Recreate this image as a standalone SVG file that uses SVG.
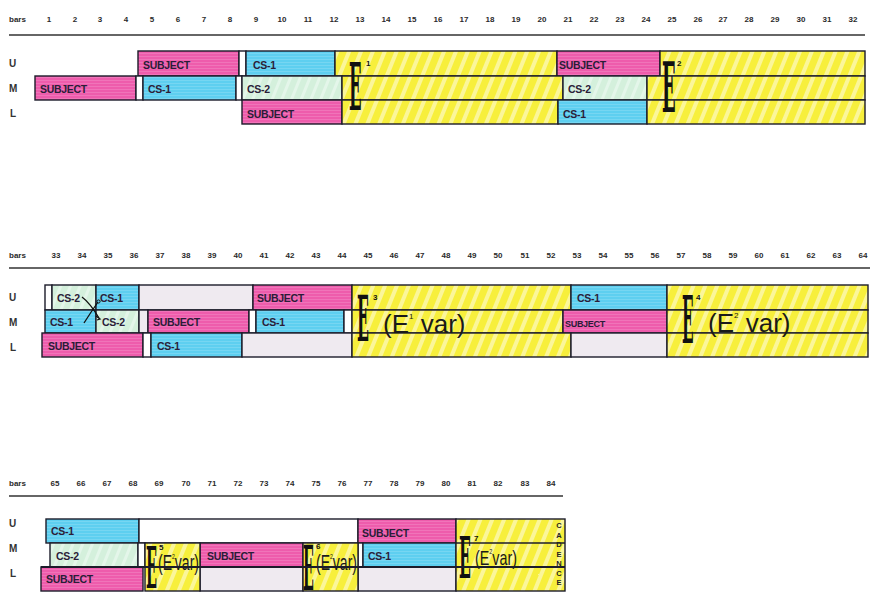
<svg xmlns="http://www.w3.org/2000/svg" width="874" height="595" viewBox="0 0 874 595">
<defs>
<pattern id="ystripe" width="11" height="11" patternUnits="userSpaceOnUse" patternTransform="rotate(22)">
<rect width="11" height="11" fill="#f7ef3c"/>
<rect x="0" width="4" height="11" fill="#fbf69a"/>
</pattern>
<pattern id="pstripe" width="6" height="3" patternUnits="userSpaceOnUse">
<rect width="6" height="3" fill="#ee5cac"/>
<rect y="2" width="6" height="0.7" fill="#f27fbf"/>
</pattern>
<pattern id="cstripe" width="6" height="3" patternUnits="userSpaceOnUse">
<rect width="6" height="3" fill="#5ecff0"/>
<rect y="2" width="6" height="0.7" fill="#80daf3"/>
</pattern>
<pattern id="gstripe" width="9" height="9" patternUnits="userSpaceOnUse" patternTransform="rotate(22)">
<rect width="9" height="9" fill="#d4f0dc"/>
<rect width="3" height="9" fill="#e4f6ea"/>
</pattern>
</defs>
<style>
.hdr{font-family:"Liberation Sans",Arial,sans-serif;font-size:8px;font-weight:bold;fill:#2a2a2a;text-anchor:middle}
.bars{font-family:"Liberation Sans",Arial,sans-serif;font-size:8px;font-weight:bold;fill:#2a2a2a}
.rl{font-family:"Liberation Sans",Arial,sans-serif;font-size:10px;font-weight:bold;fill:#333}
.rule{stroke:#333;stroke-width:1.6}
.b{stroke:#1c1c2a;stroke-width:1.4}
.p{fill:url(#pstripe)}
.c{fill:url(#cstripe)}
.g{fill:url(#gstripe)}
.y{fill:url(#ystripe)}
.w{fill:#ffffff}
.lg{fill:#efeaf0}
.t{font-family:"Liberation Sans",Arial,sans-serif;font-size:10.5px;font-weight:bold;fill:#2b1d38;letter-spacing:-0.3px}
.E{font-family:"DejaVu Serif","Liberation Serif",serif;font-weight:bold;fill:#111}
.sup{font-family:"Liberation Sans",Arial,sans-serif;font-size:8px;font-weight:bold;fill:#111}
.ev{font-family:"Liberation Sans",Arial,sans-serif;fill:#1a1a1a}
.cad{font-family:"Liberation Sans",Arial,sans-serif;font-size:7.5px;font-weight:bold;fill:#222;text-anchor:middle}
.hl{stroke:#1c1c2a;stroke-width:1.8}
.conn{fill:none;stroke:#111;stroke-width:1.3}
</style>
<rect width="874" height="595" fill="#ffffff"/>

<!-- ===== Section 1 ===== -->
<g id="header1">
<text class="bars" x="9" y="22">bars</text>
<text class="hdr" y="22"><tspan x="49">1</tspan><tspan x="75">2</tspan><tspan x="100">3</tspan><tspan x="126">4</tspan><tspan x="152">5</tspan><tspan x="178">6</tspan><tspan x="204">7</tspan><tspan x="230">8</tspan><tspan x="256">9</tspan><tspan x="282">10</tspan><tspan x="308">11</tspan><tspan x="334">12</tspan><tspan x="360">13</tspan><tspan x="386">14</tspan><tspan x="412">15</tspan><tspan x="438">16</tspan><tspan x="464">17</tspan><tspan x="490">18</tspan><tspan x="516">19</tspan><tspan x="542">20</tspan><tspan x="568">21</tspan><tspan x="594">22</tspan><tspan x="620">23</tspan><tspan x="646">24</tspan><tspan x="672">25</tspan><tspan x="698">26</tspan><tspan x="723">27</tspan><tspan x="749">28</tspan><tspan x="775">29</tspan><tspan x="801">30</tspan><tspan x="827">31</tspan><tspan x="853">32</tspan></text>
<line class="rule" x1="9" y1="35" x2="865" y2="35"/>
<text class="rl" x="9" y="67">U</text>
<text class="rl" x="9" y="92">M</text>
<text class="rl" x="10" y="117">L</text>
</g>
<g id="s1-U-subject"><rect class="b p" x="138" y="51" width="101" height="25"/><text class="t" x="143" y="69">SUBJECT</text></g>
<g id="s1-U-gap"><rect class="b w" x="239" y="51" width="7" height="25"/></g>
<g id="s1-U-cs1"><rect class="b c" x="246" y="51" width="89" height="25"/><text class="t" x="253" y="69">CS-1</text></g>
<g id="s1-U-ep1"><rect class="b y" x="335" y="51" width="222" height="25"/></g>
<g id="s1-U-subject2"><rect class="b p" x="557" y="51" width="103" height="25"/><text class="t" x="559" y="69">SUBJECT</text></g>
<g id="s1-U-ep2"><rect class="b y" x="660" y="51" width="205" height="25"/></g>
<g id="s1-M-subject"><rect class="b p" x="35" y="76" width="101" height="24"/><text class="t" x="40" y="93">SUBJECT</text></g>
<g id="s1-M-gap1"><rect class="b w" x="136" y="76" width="7" height="24"/></g>
<g id="s1-M-cs1"><rect class="b c" x="143" y="76" width="93" height="24"/><text class="t" x="148" y="93">CS-1</text></g>
<g id="s1-M-gap2"><rect class="b w" x="236" y="76" width="6" height="24"/></g>
<g id="s1-M-cs2"><rect class="b g" x="242" y="76" width="100" height="24"/><text class="t" x="247" y="93">CS-2</text></g>
<g id="s1-M-ep1"><rect class="b y" x="342" y="76" width="221" height="24"/></g>
<g id="s1-M-cs2b"><rect class="b g" x="563" y="76" width="84" height="24"/><text class="t" x="568" y="93">CS-2</text></g>
<g id="s1-M-ep2"><rect class="b y" x="647" y="76" width="218" height="24"/></g>
<g id="s1-L-subject"><rect class="b p" x="242" y="100" width="100" height="24"/><text class="t" x="247" y="118">SUBJECT</text></g>
<g id="s1-L-ep1"><rect class="b y" x="342" y="100" width="216" height="24"/></g>
<g id="s1-L-cs1"><rect class="b c" x="558" y="100" width="89" height="24"/><text class="t" x="563" y="118">CS-1</text></g>
<g id="s1-L-ep2"><rect class="b y" x="647" y="100" width="218" height="24"/></g>
<g id="E1"><text class="E" font-size="66" transform="translate(349,110) scale(0.25,1)">E</text><text class="sup" x="366" y="66">1</text></g>
<g id="E2"><text class="E" font-size="69" transform="translate(662,112) scale(0.26,1)">E</text><text class="sup" x="677" y="66">2</text></g>

<!-- ===== Section 2 ===== -->
<g id="header2">
<text class="bars" x="9" y="258">bars</text>
<text class="hdr" y="258"><tspan x="56">33</tspan><tspan x="82">34</tspan><tspan x="108">35</tspan><tspan x="134">36</tspan><tspan x="160">37</tspan><tspan x="186">38</tspan><tspan x="212">39</tspan><tspan x="238">40</tspan><tspan x="264">41</tspan><tspan x="290">42</tspan><tspan x="316">43</tspan><tspan x="342">44</tspan><tspan x="368">45</tspan><tspan x="394">46</tspan><tspan x="420">47</tspan><tspan x="446">48</tspan><tspan x="472">49</tspan><tspan x="498">50</tspan><tspan x="525">51</tspan><tspan x="551">52</tspan><tspan x="577">53</tspan><tspan x="603">54</tspan><tspan x="629">55</tspan><tspan x="655">56</tspan><tspan x="681">57</tspan><tspan x="707">58</tspan><tspan x="733">59</tspan><tspan x="759">60</tspan><tspan x="785">61</tspan><tspan x="811">62</tspan><tspan x="837">63</tspan><tspan x="863">64</tspan></text>
<line class="rule" x1="9" y1="268" x2="870" y2="268"/>
<text class="rl" x="9" y="301">U</text>
<text class="rl" x="9" y="326">M</text>
<text class="rl" x="10" y="351">L</text>
</g>
<g id="s2-U-gap"><rect class="b w" x="45" y="285" width="7" height="25"/></g>
<g id="s2-U-cs2"><rect class="b g" x="52" y="285" width="44" height="25"/><text class="t" x="57" y="302">CS-2</text></g>
<g id="s2-U-cs1"><rect class="b c" x="96" y="285" width="43" height="25"/><text class="t" x="100" y="302">CS-1</text></g>
<g id="s2-U-rest"><rect class="b lg" x="139" y="285" width="114" height="25"/></g>
<g id="s2-U-subject"><rect class="b p" x="253" y="285" width="99" height="25"/><text class="t" x="257" y="302">SUBJECT</text></g>
<g id="s2-U-ep3"><rect class="b y" x="352" y="285" width="219" height="25"/></g>
<g id="s2-U-cs1b"><rect class="b c" x="571" y="285" width="96" height="25"/><text class="t" x="577" y="302">CS-1</text></g>
<g id="s2-U-ep4"><rect class="b y" x="667" y="285" width="201" height="25"/></g>
<g id="s2-M-cs1"><rect class="b c" x="45" y="310" width="51" height="23"/><text class="t" x="50" y="326">CS-1</text></g>
<g id="s2-M-cs2"><rect class="b g" x="96" y="310" width="43" height="23"/><text class="t" x="102" y="326">CS-2</text></g>
<g id="s2-M-gap1"><rect class="b lg" x="139" y="310" width="9" height="23"/></g>
<g id="s2-M-subject"><rect class="b p" x="148" y="310" width="101" height="23"/><text class="t" x="153" y="326">SUBJECT</text></g>
<g id="s2-M-gap2"><rect class="b w" x="249" y="310" width="7" height="23"/></g>
<g id="s2-M-cs1b"><rect class="b c" x="256" y="310" width="88" height="23"/><text class="t" x="262" y="326">CS-1</text></g>
<g id="s2-M-gap3"><rect class="b w" x="344" y="310" width="8" height="23"/></g>
<g id="s2-M-ep3"><rect class="b y" x="352" y="310" width="211" height="23"/></g>
<g id="s2-M-subjectb"><rect class="b p" x="563" y="310" width="104" height="23"/><text class="t" x="565" y="327" style="font-size:9px">SUBJECT</text></g>
<g id="s2-M-ep4"><rect class="b y" x="667" y="310" width="201" height="23"/></g>
<g id="s2-L-subject"><rect class="b p" x="42" y="333" width="101" height="24"/><text class="t" x="48" y="350">SUBJECT</text></g>
<g id="s2-L-gap"><rect class="b w" x="143" y="333" width="8" height="24"/></g>
<g id="s2-L-cs1"><rect class="b c" x="151" y="333" width="91" height="24"/><text class="t" x="157" y="350">CS-1</text></g>
<g id="s2-L-rest"><rect class="b lg" x="242" y="333" width="110" height="24"/></g>
<g id="s2-L-ep3"><rect class="b y" x="352" y="333" width="219" height="24"/></g>
<g id="s2-L-rest2"><rect class="b lg" x="571" y="333" width="96" height="24"/></g>
<g id="s2-L-ep4"><rect class="b y" x="667" y="333" width="201" height="24"/></g>
<g id="E3"><text class="E" font-size="63" transform="translate(357,341) scale(0.25,1)">E</text><text class="sup" x="373" y="300">3</text><text class="ev" x="383" y="333" font-size="26">(E<tspan font-size="8" dy="-14">1</tspan><tspan dy="14"> var)</tspan></text></g>
<g id="E4"><text class="E" font-size="66" transform="translate(682,343) scale(0.23,1)">E</text><text class="sup" x="696" y="300">4</text><text class="ev" x="708" y="332" font-size="26">(E<tspan font-size="8" dy="-14">2</tspan><tspan dy="14"> var)</tspan></text></g>

<!-- ===== Section 3 ===== -->
<g id="header3">
<text class="bars" x="9" y="486">bars</text>
<text class="hdr" y="486"><tspan x="55">65</tspan><tspan x="81">66</tspan><tspan x="107">67</tspan><tspan x="133">68</tspan><tspan x="159">69</tspan><tspan x="186">70</tspan><tspan x="212">71</tspan><tspan x="238">72</tspan><tspan x="264">73</tspan><tspan x="290">74</tspan><tspan x="316">75</tspan><tspan x="342">76</tspan><tspan x="368">77</tspan><tspan x="394">78</tspan><tspan x="420">79</tspan><tspan x="446">80</tspan><tspan x="472">81</tspan><tspan x="498">82</tspan><tspan x="525">83</tspan><tspan x="551">84</tspan></text>
<line class="rule" x1="9" y1="496" x2="563" y2="496"/>
<text class="rl" x="9" y="527">U</text>
<text class="rl" x="9" y="552">M</text>
<text class="rl" x="10" y="577">L</text>
</g>
<g id="s3-U-cs1"><rect class="b c" x="46" y="519" width="93" height="24"/><text class="t" x="51" y="535">CS-1</text></g>
<g id="s3-U-rest"><rect class="b w" x="139" y="519" width="219" height="24"/></g>
<g id="s3-U-subject"><rect class="b p" x="358" y="519" width="98" height="24"/><text class="t" x="362" y="537">SUBJECT</text></g>
<g id="s3-M-cs2"><rect class="b g" x="50" y="543" width="88" height="24"/><text class="t" x="56" y="560">CS-2</text></g>
<g id="s3-M-gap"><rect class="b w" x="138" y="543" width="7" height="24"/></g>
<g id="s3-M-subject"><rect class="b p" x="200" y="543" width="103" height="24"/><text class="t" x="207" y="560">SUBJECT</text></g>
<g id="s3-M-gap2"><rect class="b w" x="358" y="543" width="5" height="24"/></g>
<g id="s3-M-cs1"><rect class="b c" x="363" y="543" width="93" height="24"/><text class="t" x="368" y="560">CS-1</text></g>
<g id="s3-L-subject"><rect class="b p" x="41" y="567" width="102" height="24"/><text class="t" x="46" y="583">SUBJECT</text></g>
<g id="s3-L-rest"><rect class="b lg" x="200" y="567" width="103" height="24"/></g>
<g id="s3-L-rest2"><rect class="b lg" x="358" y="567" width="98" height="24"/></g>
<g id="E5"><rect class="b y" x="145" y="543" width="55" height="48"/><text class="E" font-size="58" transform="translate(146,588) scale(0.25,1)">E</text><text class="sup" x="159" y="550">5</text><text class="ev" x="158" y="570" font-size="22" textLength="41" lengthAdjust="spacingAndGlyphs">(E<tspan font-size="8" dy="-11">2</tspan><tspan dy="11">var)</tspan></text></g>
<g id="E6"><rect class="b y" x="303" y="543" width="55" height="48"/><text class="E" font-size="62" transform="translate(303,590) scale(0.23,1)">E</text><text class="sup" x="316" y="549">6</text><text class="ev" x="316" y="570" font-size="22" textLength="41" lengthAdjust="spacingAndGlyphs">(E<tspan font-size="8" dy="-11">2</tspan><tspan dy="11">var)</tspan></text></g>
<g id="E7"><rect class="b y" x="456" y="519" width="109" height="72"/><line class="b" x1="456" y1="543" x2="565" y2="543"/><text class="E" font-size="58" transform="translate(459,578) scale(0.27,1)">E</text><text class="sup" x="474" y="541">7</text><text class="ev" x="475" y="565" font-size="21" textLength="42" lengthAdjust="spacingAndGlyphs">(E<tspan font-size="8" dy="-11">2</tspan><tspan dy="11">var)</tspan></text>
<text class="cad"><tspan x="559" y="528">C</tspan><tspan x="559" y="537.5">A</tspan><tspan x="559" y="547">D</tspan><tspan x="559" y="556.5">E</tspan><tspan x="559" y="566">N</tspan><tspan x="559" y="575.5">C</tspan><tspan x="559" y="585">E</tspan></text></g>
<line class="hl" x1="41" y1="567" x2="565" y2="567"/>

<!-- ===== Connectors (voice exchange) ===== -->
<g id="connectors">
<path class="conn" d="M82,297 Q90,303 99,318"/>
<path class="conn" d="M96,316 L100,319 L97,320"/>
<path class="conn" d="M84,323 Q91,312 98,302"/>
<circle cx="98.5" cy="301.5" r="1.6" fill="none" stroke="#111" stroke-width="1"/>
</g>
</svg>
